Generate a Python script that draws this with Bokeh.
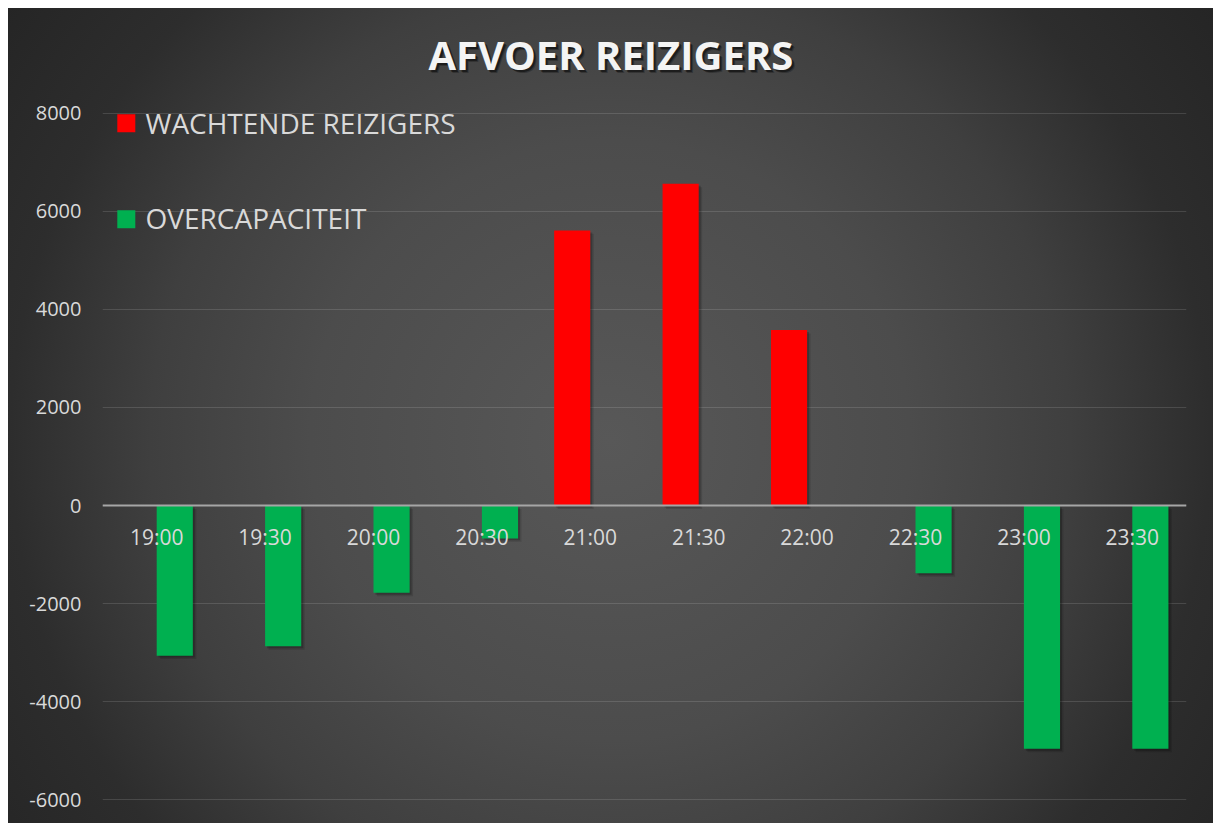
from bokeh.plotting import figure
from bokeh.models import FactorRange, Range1d, FixedTicker, ColumnDataSource
from bokeh.transform import dodge
from bokeh.core.properties import value
from bokeh.embed import file_html
from bokeh.resources import INLINE

# ---- data ----
times = ["19:00", "19:30", "20:00", "20:30", "21:00", "21:30", "22:00", "22:30", "23:00", "23:30"]
wachtende = [0, 0, 0, 0, 5610, 6560, 3580, 0, 0, 0]
overcapaciteit = [-3060, -2870, -1780, -670, 0, 0, 0, -1380, -4960, -4960]
y_ticks = [-6000, -4000, -2000, 0, 2000, 4000, 6000, 8000]
y_labels = ["-6000", "-4000", "-2000", "0", "2000", "4000", "6000", "8000"]
title_text = "AFVOER REIZIGERS"
series_names = ["WACHTENDE REIZIGERS", "OVERCAPACITEIT"]
series_colors = ["#FF0000", "#00B050"]

FONT = "Open Sans"
LABEL_COLOR = "#d9d9d9"

p = figure(width=1205, height=815,
           x_range=FactorRange(factors=times, range_padding=0),
           y_range=Range1d(-6483, 10135),
           output_backend="svg", toolbar_location=None)
p.title.visible = False
p.min_border_left = 94
p.min_border_right = 27
p.min_border_top = 0
p.min_border_bottom = 0
p.border_fill_color = None
p.background_fill_color = None
p.outline_line_color = None
p.styles = {"background": "radial-gradient(circle at 602px 432px, #585858 0px, #4c4c4c 300px, "
                          "#3f3f3f 460px, #2d2d2d 600px, #232323 780px)",
            "margin-left": "8px", "margin-top": "8px"}

src = ColumnDataSource(dict(time=times, w=wachtende, o=overcapaciteit, zero=[0] * len(times)))

BW = 1 / 3

# soft shadows (style only)
for shx, shy, alpha in ((0.018, -40, 0.2), (0.032, -70, 0.12)):
    for col, off in (("w", -BW / 2), ("o", BW / 2)):
        p.vbar(x=dodge("time", off + shx, range=p.x_range), top=dodge(col, shy),
               bottom=dodge("zero", shy), width=BW, source=src,
               fill_color="black", fill_alpha=alpha, line_color=None)

# bars
p.vbar(x=dodge("time", -BW / 2, range=p.x_range), top="w", bottom=0, width=BW, source=src,
       fill_color=series_colors[0], line_color=None)
p.vbar(x=dodge("time", BW / 2, range=p.x_range), top="o", bottom=0, width=BW, source=src,
       fill_color=series_colors[1], line_color=None)

# axes
xa = p.xaxis[0]
xa.fixed_location = 0
xa.axis_line_color = "#a6a6a6"
xa.axis_line_width = 2
xa.major_tick_line_color = None
xa.minor_tick_line_color = None
xa.major_tick_out = 0
xa.major_tick_in = 0
xa.major_label_standoff = 17
xa.major_label_text_font = FONT
xa.major_label_text_font_size = "21px"
xa.major_label_text_color = LABEL_COLOR
xa.group_text_color = None

ya = p.yaxis[0]
ya.ticker = FixedTicker(ticks=y_ticks)
ya.major_label_overrides = {t: s for t, s in zip(y_ticks, y_labels)}
ya.axis_line_color = None
ya.major_tick_line_color = None
ya.minor_tick_line_color = None
ya.major_tick_out = 0
ya.major_tick_in = 0
ya.major_label_standoff = 21
ya.major_label_text_font = FONT
ya.major_label_text_font_size = "20px"
ya.major_label_text_color = LABEL_COLOR

p.xgrid.visible = False
p.ygrid.grid_line_color = "#ffffff"
p.ygrid.grid_line_alpha = 0.13
p.ygrid.grid_line_width = 1

# title with shadow
for dx, alpha in ((3, 0.25), (2, 0.45)):
    p.text(x=[4.69], y=[9197], text=[title_text], text_font=value(FONT), text_font_style="bold",
           text_font_size="40px", text_align="center", text_baseline="middle",
           text_color="black", text_alpha=alpha, x_offset=dx, y_offset=dx)
p.text(x=[4.69], y=[9197], text=[title_text], text_font=value(FONT), text_font_style="bold",
       text_font_size="40px", text_align="center", text_baseline="middle",
       text_color="#f4f4f4")

# legend (drawn manually)
p.scatter(x=[0.2196, 0.2196], y=[7794, 5836], marker="square", size=18,
          fill_color=series_colors, line_color=None)
p.text(x=[0.397, 0.397], y=[7810, 5863], text=series_names, text_font=value(FONT),
       text_font_size="28px", text_align="left", text_baseline="middle",
       text_color=LABEL_COLOR)

open("out.html", "w").write(file_html(p, INLINE))
